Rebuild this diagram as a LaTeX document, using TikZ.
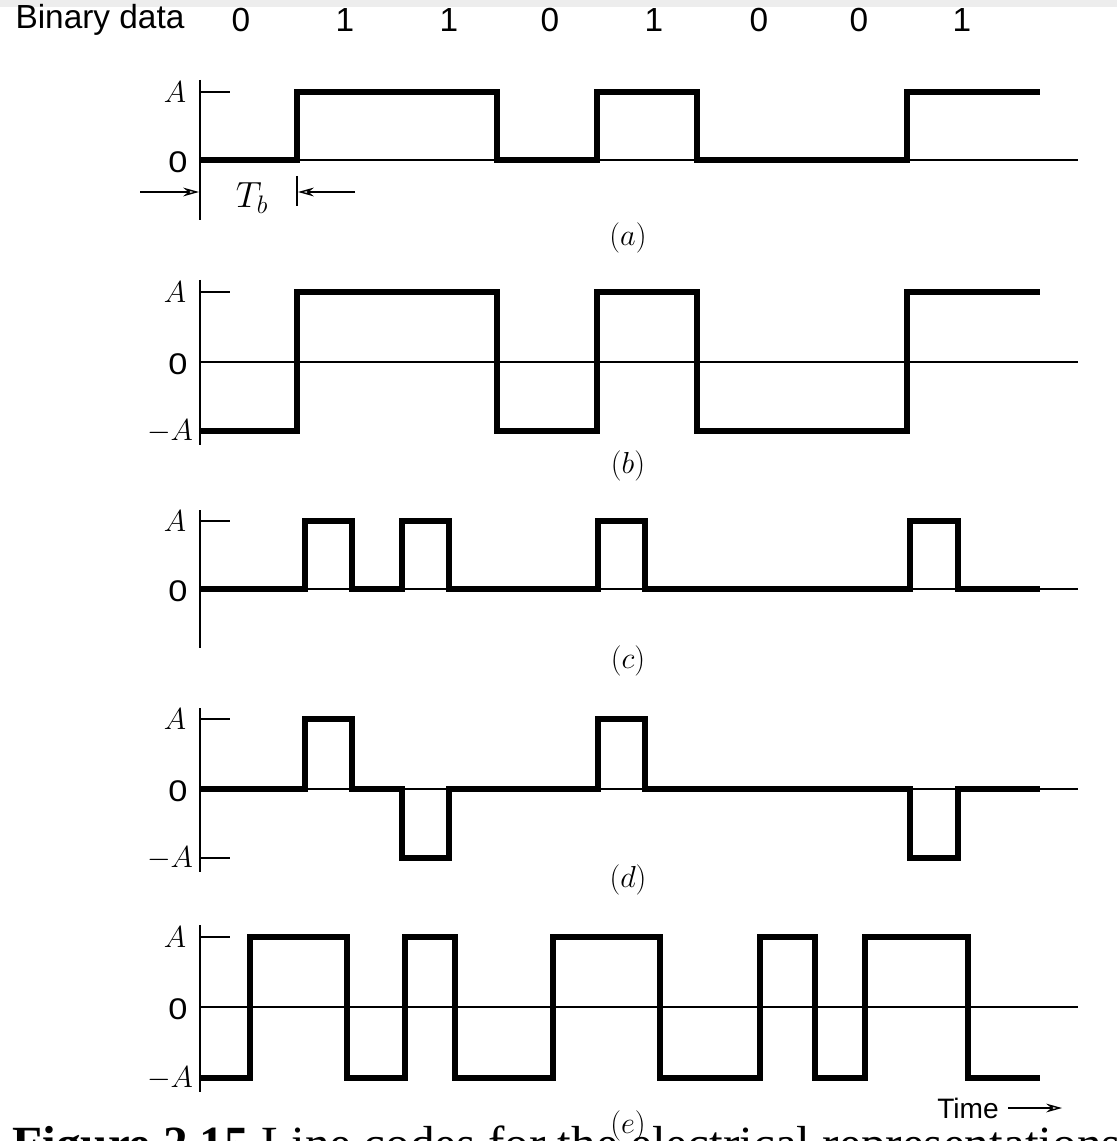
\documentclass[tikz,border=0pt]{standalone}
\usepackage{fontspec}
\setmainfont{Liberation Serif}
\setsansfont{Liberation Sans}
\usetikzlibrary{arrows.meta}

\tikzstyle{wave} = [line width=3.2pt, line join=miter]
\tikzstyle{axis} = [line width=1.7pt]
\tikzstyle{thin} = [line width=0.8pt]
\tikzstyle{bit} = [font=\sffamily\fontsize{19}{22}\selectfont, inner sep=0pt]
\tikzstyle{lvl} = [font=\fontsize{17}{19}\selectfont, inner sep=0pt]
\tikzstyle{zero} = [font=\sffamily\fontsize{17}{19}\selectfont, inner sep=0pt, xscale=1.15]
\tikzstyle{sub} = [font=\fontsize{17}{19}\selectfont, inner sep=0pt]
\tikzstyle{tip} = [thin, -{Stealth[open,length=9pt,width=5pt]}]

\begin{document}
\begin{tikzpicture}[x=0.02cm,y=-0.02cm]
\useasboundingbox (0,0) rectangle (1117,1141);
\clip (0,0) rectangle (1117,1141);
\fill[black!7] (0,0) rectangle (1117,7);

% binary data
\node[bit] (bd) at (100,20) {Binary data};
\foreach \x/\b [count=\i] in {241/0,345/1,449/1,550/0,654/1,759/0,859/0,962/1}
  \node[bit] (b\i) at (\x,20) {\b};

% (a)
\draw[axis] (200,80) -- (200,220);
\draw[thin] (200,92) -- (230,92);
\draw[thin] (200,160) -- (1078,160);
\draw[wave] (200,160) -- (297,160) -- (297,92) -- (497,92) -- (497,160) -- (597,160) -- (597,92) -- (697,92) -- (697,160) -- (907,160) -- (907,92) -- (1040,92);
\node[lvl] (aA) at (175,92) {$A$};
\node[zero] (a0) at (178,162) {0};
\coordinate (tbl) at (140,192);
\coordinate (tbr) at (355,192);
\coordinate (tba) at (199,192);
\coordinate (tbb) at (298,192);
\draw[thin] (297,176) -- (297,206);
\draw[tip] (tbl) -- (tba);
\draw[tip] (tbr) -- (tbb);
\node[lvl,font=\fontsize{20}{22}\selectfont] (tb) at (252,198) {$T_b$};
\node[sub] (la) at (628,238) {$(a)$};

% (b)
\draw[axis] (200,280) -- (200,445);
\draw[thin] (200,292) -- (230,292);
\draw[thin] (200,362) -- (1078,362);
\draw[wave] (200,431) -- (297,431) -- (297,292) -- (497,292) -- (497,431) -- (597,431) -- (597,292) -- (697,292) -- (697,431) -- (907,431) -- (907,292) -- (1040,292);
\node[lvl] (bA) at (175,292) {$A$};
\node[zero] (b0) at (178,364) {0};
\node[lvl] (bmA) at (170,431) {$-A$};
\node[sub] (lb) at (628,466) {$(b)$};

% (c)
\draw[axis] (200,510) -- (200,648);
\draw[thin] (200,521) -- (230,521);
\draw[thin] (200,589) -- (1078,589);
\draw[wave] (200,589) -- (305,589) -- (305,521) -- (352,521) -- (352,589) -- (402,589) -- (402,521) -- (449,521) -- (449,589) -- (598,589) -- (598,521) -- (645,521) -- (645,589) -- (910,589) -- (910,521) -- (958,521) -- (958,589) -- (1040,589);
\node[lvl] (cA) at (175,521) {$A$};
\node[zero] (c0) at (178,591) {0};
\node[sub] (lc) at (628,661) {$(c)$};

% (d)
\draw[axis] (200,708) -- (200,872);
\draw[thin] (200,719) -- (230,719);
\draw[thin] (200,858) -- (230,858);
\draw[thin] (200,789) -- (1078,789);
\draw[wave] (200,789) -- (305,789) -- (305,719) -- (352,719) -- (352,789) -- (402,789) -- (402,858) -- (449,858) -- (449,789) -- (598,789) -- (598,719) -- (645,719) -- (645,789) -- (910,789) -- (910,858) -- (958,858) -- (958,789) -- (1040,789);
\node[lvl] (dA) at (175,719) {$A$};
\node[zero] (d0) at (178,791) {0};
\node[lvl] (dmA) at (170,858) {$-A$};
\node[sub] (ld) at (628,880) {$(d)$};

% (e)
\draw[axis] (200,925) -- (200,1092);
\draw[thin] (200,937) -- (230,937);
\draw[thin] (200,1007) -- (1078,1007);
\draw[wave] (200,1078) -- (250,1078) -- (250,937) -- (347,937) -- (347,1078) -- (405,1078) -- (405,937) -- (455,937) -- (455,1078) -- (553,1078) -- (553,937) -- (660,937) -- (660,1078) -- (760,1078) -- (760,937) -- (815,937) -- (815,1078) -- (865,1078) -- (865,937) -- (968,937) -- (968,1078) -- (1040,1078);
\node[lvl] (eA) at (175,937) {$A$};
\node[zero] (e0) at (178,1009) {0};
\node[lvl] (emA) at (170,1078) {$-A$};
\node[sub] (le) at (628,1126) {$(e)$};
\node[bit,font=\sffamily\fontsize{16}{18}\selectfont] (time) at (968,1108) {Time};
\coordinate (tl) at (1008,1108);
\coordinate (tr) at (1062,1108);
\draw[tip] (tl) -- (tr);

% caption, cut off at the page edge
\node[anchor=base west, inner sep=0pt, font=\fontsize{28}{30}\selectfont] (cap) at (12,1160)
  {\textbf{Figure 2.15} Line codes for the electrical representations of binary data};
\end{tikzpicture}
\end{document}
